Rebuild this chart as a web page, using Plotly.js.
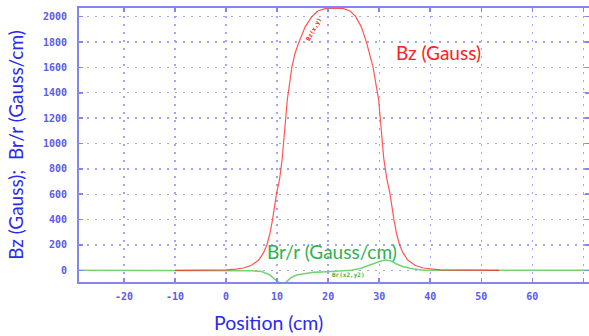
<!DOCTYPE html>
<html>
<head>
<meta charset="utf-8">
<script src="https://cdn.plot.ly/plotly-3.0.1.min.js"></script>
<style>html,body{margin:0;padding:0;background:#fff;}#chart{width:589px;height:336px;}</style>
</head>
<body>
<div id="chart"></div>
<script>
// Bz (Gauss) along position
const bzPos = [-10, -5, 0, 2, 3.4, 5, 6.4, 7.3, 8.0, 8.6, 9.1, 9.9, 10.5, 11.0, 11.5, 12.0, 12.9, 13.5, 14.3, 15.5, 16.8, 18, 19.4, 21.2, 23.0, 24.3, 25.4, 26.5, 27.5, 28.1, 28.8, 29.9, 30.4, 30.9, 31.5, 32.1, 32.9, 33.4, 34.0, 34.7, 35.6, 37, 38.6, 40, 42, 47, 53.5];
const bzVal = [0, 1, 4, 10, 18, 40, 81, 135, 200, 290, 397, 607, 720, 880, 1100, 1343, 1603, 1710, 1800, 1920, 2000, 2045, 2064, 2068, 2064, 2045, 2000, 1920, 1800, 1710, 1603, 1343, 1100, 880, 720, 607, 397, 290, 200, 135, 81, 40, 18, 10, 4, 1, 0];

// Br/r (Gauss/cm) along position
const brPos = [-28.8, -10, 0, 3, 5, 7, 8.5, 9.9, 10.6, 11.6, 12.6, 13.8, 15.5, 17.1, 19.7, 22.4, 24.5, 26.3, 28.9, 30.2, 31.2, 32.2, 33.4, 34.6, 36, 37.3, 38.6, 45, 60, 71.1];
const brVal = [0, 0, 0, -1, -3, -9, -35, -84, -100, -100, -62, -37, -24, -16, -11, -8, 0, 14, 55, 72, 81, 76, 50, 30, 16, 6, 0, 0, 0, 0];

const xTicks = [-20, -10, 0, 10, 20, 30, 40, 50, 60, 70];
const yTicks = [0, 200, 400, 600, 800, 1000, 1200, 1400, 1600, 1800, 2000];

const axisCol = '#8585ee';
const gridCol = '#a4a4f6';
const tickFont = {family: 'DejaVu Sans Mono', size: 10, color: '#5a5aee', weight: 'bold'};

const traces = [
  {x: brPos, y: brVal, type: 'scatter', mode: 'lines', line: {color: '#74d474', width: 1.6}, hoverinfo: 'skip'},
  {x: bzPos, y: bzVal, type: 'scatter', mode: 'lines', line: {color: '#ff2a2a', width: 1.2}, opacity: 0.8, hoverinfo: 'skip'}
];

const layout = {
  width: 589, height: 336,
  margin: {l: 79, r: 0, t: 8, b: 54},
  paper_bgcolor: '#ffffff', plot_bgcolor: '#ffffff',
  showlegend: false,
  xaxis: {
    range: [-28.8, 71.1], tickvals: xTicks, ticktext: xTicks.map(String),
    showline: true, linecolor: axisCol, linewidth: 2, mirror: 'ticks',
    ticks: 'inside', ticklen: 4, tickcolor: axisCol, tickwidth: 1.5,
    showgrid: true, gridcolor: gridCol, griddash: '2px,6px', gridwidth: 1.3,
    zeroline: false, tickfont: tickFont, ticklabelstandoff: 4
  },
  yaxis: {
    range: [-92.3, 2068.6], tickvals: yTicks, ticktext: yTicks.map(String),
    showline: true, linecolor: axisCol, linewidth: 2, mirror: 'ticks',
    ticks: 'inside', ticklen: 4, tickcolor: axisCol, tickwidth: 1.5,
    showgrid: true, gridcolor: gridCol, griddash: '2px,6px', gridwidth: 1.3,
    zeroline: false, tickfont: tickFont, ticklabelstandoff: 8,
    title: {text: 'Bz (Gauss);  Br/r (Gauss/cm)', font: {family: 'Lato', size: 19, color: '#2a2aee'}, standoff: 14}
  },
  annotations: [
    {x: 8.4, y: 0, xref: 'x', yref: 'paper', yshift: -40.5, yanchor: 'middle', text: 'Position (cm)', showarrow: false,
     font: {family: 'Lato', size: 19.5, color: '#2a2aee'}},
    {x: 41.7, y: 1718, xref: 'x', yref: 'y', text: 'Bz (Gauss)', showarrow: false,
     font: {family: 'Lato', size: 19, color: '#ff2020'}},
    {x: 20.7, y: 145, xref: 'x', yref: 'y', text: 'Br/r (Gauss/cm)', showarrow: false,
     font: {family: 'Lato', size: 19, color: '#2db24f'}},
    {x: 17.2, y: 1903, xref: 'x', yref: 'y', text: 'Bz(x,y)', showarrow: false, textangle: -62,
     font: {family: 'DejaVu Sans Mono', size: 6, color: '#ff2020', weight: 'bold'}},
    {x: 24.0, y: -37, xref: 'x', yref: 'y', text: 'Br(x2,y2)', showarrow: false,
     font: {family: 'DejaVu Sans Mono', size: 6, color: '#3cb040', weight: 'bold'}}
  ]
};

Plotly.newPlot('chart', traces, layout, {displayModeBar: false, staticPlot: true});
</script>
</body>
</html>
